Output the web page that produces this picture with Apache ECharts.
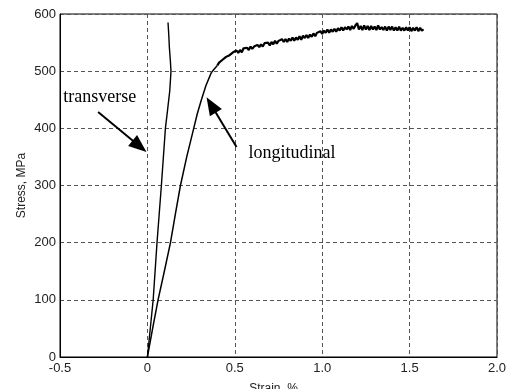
<!DOCTYPE html>
<html>
<head>
<meta charset="utf-8">
<script src="https://cdn.jsdelivr.net/npm/echarts@6/dist/echarts.min.js"></script>
<style>
html,body{margin:0;padding:0;background:#fff;}
#c{width:512px;height:389px;}
</style>
</head>
<body>
<div id="c"></div>
<script>
// Tick values
const xTicks = [-0.5, 0, 0.5, 1.0, 1.5, 2.0];
const yTicks = [0, 100, 200, 300, 400, 500, 600];

// Transverse curve
const transStrain = [0, 0.033, 0.055, 0.08, 0.103, 0.115, 0.128, 0.135, 0.131, 0.126, 0.122, 0.118];
const transStress = [0, 100, 200, 300, 400, 431, 466, 500, 520, 540, 565, 585];

// Longitudinal curve: elastic / knee part
const longStrainLow = [0, 0.03, 0.061, 0.097, 0.132, 0.16, 0.189, 0.225, 0.265, 0.285, 0.309, 0.335, 0.365, 0.38, 0.40];
const longStressLow = [0, 50, 100, 150, 200, 250, 300, 350, 400, 425, 450, 475, 497, 503, 510];

// Longitudinal curve: noisy plastic part
const longStrainHigh = [0.40, 0.41, 0.42, 0.43, 0.44, 0.45, 0.46, 0.47, 0.48, 0.49,
  0.50, 0.51, 0.52, 0.53, 0.54, 0.55, 0.56, 0.57, 0.58, 0.59,
  0.60, 0.61, 0.62, 0.63, 0.64, 0.65, 0.66, 0.67, 0.68, 0.69,
  0.70, 0.71, 0.72, 0.73, 0.74, 0.75, 0.76, 0.77, 0.78, 0.79,
  0.80, 0.81, 0.82, 0.83, 0.84, 0.85, 0.86, 0.87, 0.88, 0.89,
  0.90, 0.91, 0.92, 0.93, 0.94, 0.95, 0.96, 0.97, 0.98, 0.99,
  1.00, 1.01, 1.02, 1.03, 1.04, 1.05, 1.06, 1.07, 1.08, 1.09,
  1.10, 1.11, 1.12, 1.13, 1.14, 1.15, 1.16, 1.17, 1.18, 1.19,
  1.20, 1.21, 1.22, 1.23, 1.24, 1.25, 1.26, 1.27, 1.28, 1.29,
  1.30, 1.31, 1.32, 1.33, 1.34, 1.35, 1.36, 1.37, 1.38, 1.39,
  1.40, 1.41, 1.42, 1.43, 1.44, 1.45, 1.46, 1.47, 1.48, 1.49,
  1.50, 1.51, 1.52, 1.53, 1.54, 1.55, 1.56, 1.57, 1.58];
const longStressHigh = [510, 515, 513, 520, 519, 525, 522, 528, 526, 533,
  531, 536, 532, 537, 533, 540, 537, 541, 537, 543,
  539, 543, 540, 546, 542, 547, 543, 549, 546, 550,
  545, 551, 547, 553, 548, 553, 550, 556, 551, 556,
  551, 557, 553, 559, 553, 559, 555, 561, 555, 562,
  558, 563, 558, 564, 560, 566, 561, 567, 564, 570,
  565, 571, 567, 573, 567, 573, 569, 574, 569, 575,
  571, 577, 571, 577, 573, 578, 572, 579, 574, 580,
  584, 573, 579, 572, 580, 573, 579, 572, 579, 573,
  578, 572, 580, 573, 577, 572, 578, 571, 578, 572,
  578, 571, 577, 571, 578, 571, 576, 571, 577, 571,
  577, 570, 576, 571, 577, 570, 576, 571, 573];

// Annotations (data coordinates)
const annoLabels = ['transverse', 'longitudinal'];
const annoPos = [[-0.481, 454], [0.578, 356]];
const arrowFrom = [[-0.282, 428.6], [0.51, 367.3]];
const arrowTo = [[-0.045, 368.7], [0.365, 440.8]];

const transData = transStrain.map((x, i) => [x, transStress[i]]);
const longDataLow = longStrainLow.map((x, i) => [x, longStressLow[i]]);
const longDataHigh = longStrainHigh.map((x, i) => [x, longStressHigh[i]]);

const chart = echarts.init(document.getElementById('c'), null, {renderer: 'canvas'});
const labelFont = {fontFamily: 'Liberation Sans, Arial, sans-serif', fontSize: 13, color: '#222'};
const gridLine = {show: true, lineStyle: {color: '#555', width: 1, type: [4, 3]}};

chart.setOption({
  animation: false,
  backgroundColor: '#fff',
  grid: {left: 60, top: 14, right: 15, bottom: 32, containLabel: false, outerBoundsMode: 'none',
    show: true, borderColor: '#000', borderWidth: 1, backgroundColor: '#fff'},
  xAxis: {
    type: 'value', min: xTicks[0], max: xTicks[xTicks.length - 1], interval: 0.5,
    name: 'Strain, %', nameLocation: 'middle', nameGap: 26, nameMoveOverlap: false,
    nameTextStyle: {fontFamily: 'Liberation Sans, Arial, sans-serif', fontSize: 12, color: '#222', padding: [0, 10, 0, 0]},
    axisLine: {show: true, onZero: false, lineStyle: {color: '#000', width: 1}},
    axisTick: {show: false},
    axisLabel: Object.assign({margin: 5, formatter: v => v === 0 ? '0' : v.toFixed(1)}, labelFont),
    splitLine: gridLine
  },
  yAxis: {
    type: 'value', min: yTicks[0], max: yTicks[yTicks.length - 1], interval: 100,
    name: 'Stress, MPa', nameLocation: 'middle', nameGap: 32, nameMoveOverlap: false,
    nameTextStyle: {fontFamily: 'Liberation Sans, Arial, sans-serif', fontSize: 12, color: '#222'},
    axisLine: {show: true, onZero: false, lineStyle: {color: '#000', width: 1}},
    axisTick: {show: false},
    axisLabel: Object.assign({margin: 4}, labelFont),
    splitLine: gridLine
  },
  series: [
    {
      type: 'line', data: transData, showSymbol: false, smooth: false,
      lineStyle: {color: '#000', width: 1.4}, silent: true,
      markLine: {
        silent: true, symbol: ['none', 'triangle'], symbolSize: [14, 18],
        lineStyle: {color: '#000', width: 2, type: 'solid'}, label: {show: false},
        data: arrowFrom.map((p, i) => [{coord: p}, {coord: arrowTo[i]}])
      },
      markPoint: {
        silent: true, symbol: 'circle', symbolSize: 0,
        label: {show: true, position: 'right', distance: 0, fontFamily: 'Liberation Serif, Times New Roman, serif', fontSize: 18, color: '#000'},
        data: annoPos.map((p, i) => ({coord: p, value: annoLabels[i], label: {formatter: annoLabels[i]}}))
      }
    },
    {
      type: 'line', data: longDataLow, showSymbol: false, smooth: false,
      lineStyle: {color: '#000', width: 1.5}, silent: true
    },
    {
      type: 'line', data: longDataHigh, showSymbol: false, smooth: false,
      lineStyle: {color: '#000', width: 2.2}, silent: true
    }
  ]
});
</script>
</body>
</html>
